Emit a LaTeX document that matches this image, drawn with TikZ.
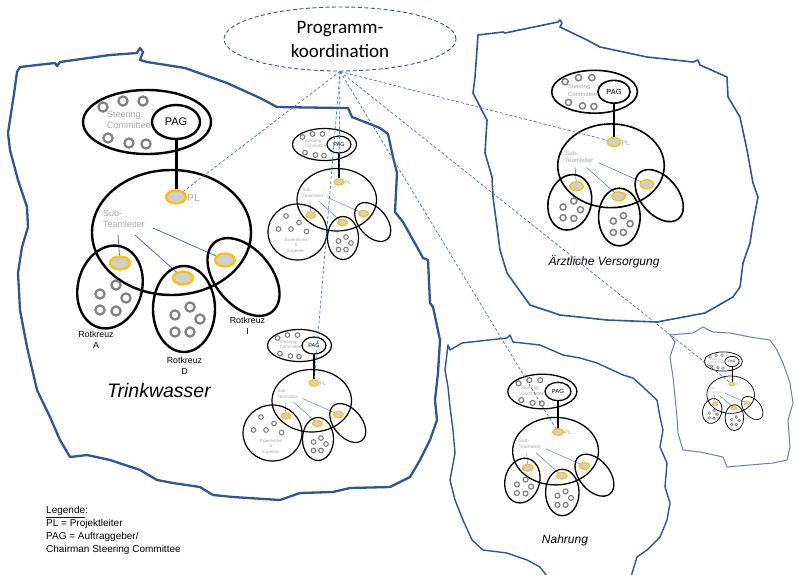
\documentclass[tikz,border=0pt]{standalone}
\usepackage{fontspec}
\setmainfont{Liberation Sans}
\newfontfamily\koordfont{Carlito}
\usetikzlibrary{shapes.geometric, positioning}

\definecolor{blobblue}{HTML}{2F5597}
\definecolor{linkblue}{HTML}{4472C4}
\definecolor{plgold}{HTML}{FFC000}
\definecolor{plfill}{HTML}{CFCFCF}
\definecolor{dotgray}{HTML}{7F7F7F}
\definecolor{txtgray}{HTML}{A6A6A6}

\tikzset{
  blob/.style={draw=blobblue, line join=round},
  koordbox/.style={ellipse, draw=blobblue, dash pattern=on 4pt off 2.5pt, line width=0.9pt,
    minimum width=232pt, minimum height=64pt, inner sep=0pt, align=center,
    font=\koordfont\fontsize{19}{24}\selectfont},
  koordlink/.style={draw=linkblue, dash pattern=on 3pt off 2pt, line width=0.7pt},
  plnode/.style={ellipse, draw=plgold, fill=plfill, minimum width=20pt, minimum height=13pt, inner sep=0pt},
  pagnode/.style={ellipse, draw, minimum width=48pt, minimum height=34pt, inner sep=0pt,
    font=\fontsize{11}{13}\selectfont},
  member/.style={draw=dotgray},
  graytext/.style={text=txtgray, inner sep=0pt, align=left, font=\fontsize{9}{11}\selectfont},
  link/.style={draw=linkblue},
  caption/.style={inner sep=0pt, font=\itshape\fontsize{12}{14}\selectfont},
  rotlabel/.style={inner sep=0pt, align=center, font=\fontsize{8.8}{10.5}\selectfont},
}

% one project organisation: #1 name, #2 position of PL, #3 scale, #4 = 1 for the experts group
\newcommand{\orgcell}[4]{%
  \pgfmathsetmacro{\unitlw}{max(0.7,2.4*#3)}%
  \pgfmathsetmacro{\barlw}{max(0.9,3*#3)}%
  \pgfmathsetmacro{\memberlw}{max(0.5,2.2*#3)}%
  \pgfmathsetmacro{\linklw}{max(0.4,0.8*#3)}%
  \begin{scope}[shift={#2}, scale=#3, transform shape]
    \ifnum#4=1 \clip (-160,-120) rectangle (130,156); \fi
    % steering committee
    \node[graytext, anchor=west] (#1-sc) at (-69,-77) {Steering\\Committee};
    \draw[line width=\unitlw pt] (-29,-75) ellipse [x radius=64, y radius=32];
    \foreach \p in {(-73,-90),(-53,-96),(-33,-96),(-68,-59),(-47,-54),(-30,-53)}
      \draw[member, line width=\memberlw pt] \p circle [radius=4.6];
    \node[pagnode, line width=\unitlw pt] (#1-pag) at (0,-75) {PAG};
    % project leader and team
    \node[plnode, line width=\memberlw pt] (#1-pl) at (0,0) {};
    \draw[line width=\barlw pt] (#1-pag) -- (#1-pl);
    \node[graytext, anchor=west, font=\fontsize{10.4}{12}\selectfont] (#1-pltext) at (11,1) {PL};
    \draw[line width=\unitlw pt] (-4.5,35.5) ellipse [x radius=79.5, y radius=62.5];
    \node[graytext, anchor=west] (#1-st) at (-73,22) {Sub-\\Teamleiter};
    \node[plnode, line width=\memberlw pt] (#1-ga) at (-56,66) {};
    \node[plnode, line width=\memberlw pt] (#1-gd) at (7,81) {};
    \node[plnode, line width=\memberlw pt] (#1-gi) at (49,63) {};
    \draw[link, line width=\linklw pt] (-58,38) -- (#1-ga);
    \draw[link, line width=\linklw pt] (-41,38) -- (#1-gd);
    \draw[link, line width=\linklw pt] (-23,31) -- (#1-gi);
    % sub teams
    \ifnum#4=1
      \draw[line width=\unitlw pt] (-83,100) ellipse [x radius=59, y radius=56];
      \foreach \p in {(-106,68),(-121,94),(-96,94),(-80,81),(-65,99)}
        \draw[member, line width=\memberlw pt] \p circle [radius=4.6];
      \node[graytext, align=center, font=\fontsize{8.6}{11}\selectfont] (#1-ex) at (-86,127) {Expertinnen\\\&\\Experten};
    \else
      \draw[line width=\unitlw pt] (-66,90) ellipse [x radius=32, y radius=42, rotate=-15];
      \foreach \p in {(-60,88),(-76,97),(-50,101),(-76,113),(-60,114)}
        \draw[member, line width=\memberlw pt] \p circle [radius=4.6];
    \fi
    \draw[line width=\unitlw pt] (8,112) ellipse [x radius=31, y radius=43];
    \foreach \p in {(14,110),(-1,118),(24,122),(-1,135),(14,135)}
      \draw[member, line width=\memberlw pt] \p circle [radius=4.6];
    \draw[line width=\unitlw pt] (67.5,80) ellipse [x radius=28, y radius=45, rotate=40];
  \end{scope}
}

\begin{document}
\begin{tikzpicture}[x=1pt, y=-1pt]
\useasboundingbox (0,0) rectangle (796,574);

% areas
\draw[blob, line width=2.3pt] (17,72) -- (20,67) -- (55,63) -- (57,66) -- (60,62) -- (110,55) -- (137,53)
  -- (140,48) -- (143,52) -- (140,60) -- (147,62) -- (185,68) -- (227,83) -- (260,98) -- (277,107)
  -- (340,108) -- (348,108) -- (352,117) -- (380,128) -- (388,134) -- (393,157) -- (397,173)
  -- (395,212) -- (403,222) -- (417,247) -- (423,258) -- (428,260) -- (430,303) -- (433,307)
  -- (440,340) -- (438,373) -- (435,400) -- (437,420) -- (430,440) -- (420,460) -- (410,477)
  -- (390,487) -- (350,488) -- (333,492) -- (300,493) -- (280,500) -- (233,497) -- (213,495)
  -- (200,487) -- (173,483) -- (157,480) -- (140,470) -- (110,460) -- (87,455) -- (70,457)
  -- (60,440) -- (50,417) -- (37,390) -- (27,347) -- (20,310) -- (18,273) -- (22,247) -- (28,227)
  -- (27,207) -- (18,180) -- (10,150) -- (8,133) -- (12,107) -- (15,87) -- cycle;
\draw[blob, line width=1.6pt] (478,35) -- (503,32) -- (505,33) -- (558,22) -- (560,20) -- (562,23)
  -- (560,27) -- (587,40) -- (600,47) -- (647,57) -- (693,62) -- (698,60) -- (700,65) -- (727,77)
  -- (728,97) -- (740,117) -- (747,150) -- (753,183) -- (758,197) -- (753,223) -- (750,243)
  -- (743,263) -- (740,287) -- (733,297) -- (705,313) -- (657,322) -- (607,320) -- (560,315)
  -- (530,305) -- (517,287) -- (507,273) -- (500,250) -- (497,227) -- (493,197) -- (492,177)
  -- (485,153) -- (487,120) -- (473,93) -- (475,77) -- cycle;
\draw[blob, line width=1.4pt] (448,345) -- (450,350) -- (462,343) -- (507,338) -- (510,335) -- (513,342)
  -- (540,345) -- (563,355) -- (580,358) -- (597,363) -- (623,375) -- (633,378) -- (643,387)
  -- (657,400) -- (660,417) -- (663,430) -- (660,447) -- (667,463) -- (665,487) -- (670,503)
  -- (667,520) -- (660,537) -- (647,550) -- (637,557) -- (630,580) -- (550,580) -- (540,567)
  -- (527,560) -- (507,553) -- (483,550) -- (472,540) -- (463,520) -- (455,500) -- (450,480)
  -- (455,453) -- (453,430) -- (450,407) -- (448,387) -- (445,370) -- cycle;
\draw[blob, draw=blobblue!75, line width=1pt] (670,335) -- (675,342) -- (670,357) -- (673,377)
  -- (675,397) -- (677,417) -- (678,433) -- (683,450) -- (700,452) -- (723,457) -- (727,467)
  -- (750,465) -- (773,463) -- (787,460) -- (790,447) -- (788,420) -- (793,403) -- (790,383)
  -- (783,363) -- (777,350) -- (770,340) -- (750,337) -- (730,333) -- (713,332) -- (703,327)
  -- (693,333) -- cycle;

% project organisations
\orgcell{tw}{(176,197)}{1}{0}
\orgcell{c1}{(339,182)}{0.5}{1}
\orgcell{c2}{(314,383)}{0.5}{1}
\orgcell{aev}{(614,142)}{0.67}{0}
\orgcell{nah}{(558,432)}{0.54}{0}
\orgcell{sml}{(732,384)}{0.3}{0}

\node[rotlabel] (rk-a) at (96,340) {Rotkreuz\\A};
\node[rotlabel] (rk-d) at (184.5,366) {Rotkreuz\\D};
\node[rotlabel] (rk-i) at (247.5,326) {Rotkreuz\\I};

% area names
\node[caption, font=\itshape\fontsize{19.5}{22}\selectfont] (tw-name) at (159,391) {Trinkwasser};
\node[caption] (aev-name) at (604,262) {Ärztliche Versorgung};
\node[caption] (nah-name) at (565,540) {Nahrung};

% programme coordination
\node[koordbox] (pk) at (340,39) {Programm-\\koordination};
\foreach \c in {tw,c1,c2,aev,nah,sml}
  \draw[koordlink] (pk.south) -- (\c-pl);

\node[anchor=north west, inner sep=0pt, align=left, font=\fontsize{10}{13}\selectfont] (legend)
  at (46,506) {\underline{Legende}:\\PL = Projektleiter\\PAG = Auftraggeber/\\Chairman Steering Committee};
\end{tikzpicture}
\end{document}
